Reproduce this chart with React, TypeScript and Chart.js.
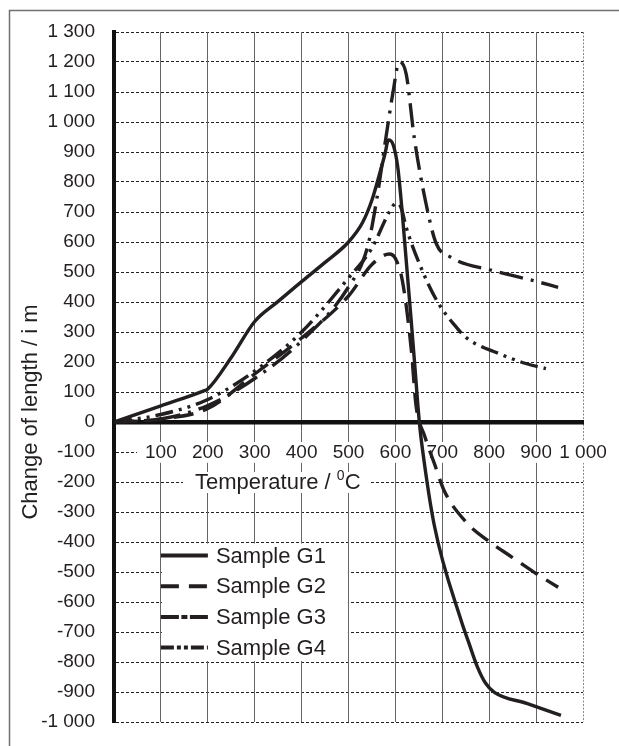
import React, { useEffect, useRef } from 'react';
import { Chart, registerables } from 'chart.js';

Chart.register(...registerables);

const FONT = '"Liberation Sans", Arial, Helvetica, sans-serif';
const INK = '#231f20';

// Temperature (°C) and change of length per sample
const g1Temp = [0, 100, 190, 200, 250, 300, 350, 400, 450, 500, 530, 550, 565, 578, 585, 595, 605, 615, 640, 651, 658, 683, 740, 757, 775, 792, 811, 880, 953];
const g1Len = [0, 54, 103, 110, 215, 335, 402, 468, 532, 600, 665, 740, 820, 895, 940, 925, 850, 690, 215, 0, -94, -345, -661, -738, -817, -870, -901, -938, -978];

const g2Temp = [0, 100, 200, 300, 400, 500, 550, 587, 600, 615, 634, 644, 662, 683, 704, 751, 796, 849, 896, 947];
const g2Len = [0, 10, 45, 160, 280, 420, 525, 560, 545, 470, 239, 55, -45, -138, -229, -334, -394, -451, -501, -551];

const g3Temp = [0, 100, 200, 300, 400, 500, 540, 560, 580, 595, 608, 623, 640, 665, 687, 718, 807, 892, 947];
const g3Len = [0, 10, 55, 145, 270, 450, 580, 740, 950, 1100, 1200, 1160, 950, 730, 595, 549, 505, 472, 449];

const g4Temp = [0, 100, 200, 300, 400, 500, 550, 587, 602, 612, 623, 651, 690, 730, 751, 821, 878, 921];
const g4Len = [0, 25, 75, 170, 300, 480, 580, 700, 730, 715, 649, 528, 400, 316, 281, 228, 195, 178];

const seriesNames = ['Sample G1', 'Sample G2', 'Sample G3', 'Sample G4'];
const seriesTemps = [g1Temp, g2Temp, g3Temp, g4Temp];
const seriesLens = [g1Len, g2Len, g3Len, g4Len];
const seriesDash = [[], [20, 10], [24, 8, 3, 8], [18, 6, 3, 6, 3, 6]];
const legendDash = [[], [18, 10], [18, 2.5, 6, 2.5], [13, 3, 4, 3, 4, 3]];

const xMin = 0;
const xMax = 1000;
const yMin = -1000;
const yMax = 1300;
const tickStep = 100;

const xTitle = 'Temperature / ';
const xTitleSup = '0';
const xTitleUnit = 'C';
const yTitle = 'Change of length / i m';

const fmt = (v: number) => {
  const s = Math.abs(v).toString();
  const t = s.length > 3 ? s.slice(0, s.length - 3) + ' ' + s.slice(-3) : s;
  return v < 0 ? '-' + t : t;
};

const annotate = {
  id: 'annotate',
  afterDraw(chart: any) {
    const { ctx } = chart;
    const xs = chart.scales.x;
    const ys = chart.scales.y;
    ctx.save();

    // outer frame (top & left)
    ctx.strokeStyle = '#707070';
    ctx.lineWidth = 1.5;
    ctx.beginPath();
    ctx.moveTo(9.5, chart.height);
    ctx.lineTo(9.5, 10.5);
    ctx.lineTo(chart.width, 10.5);
    ctx.stroke();

    // y title
    ctx.save();
    ctx.translate(31, 412);
    ctx.rotate(-Math.PI / 2);
    ctx.font = `22px ${FONT}`;
    ctx.textAlign = 'center';
    ctx.textBaseline = 'middle';
    ctx.fillStyle = INK;
    ctx.fillText(yTitle, 0, 0);
    ctx.restore();

    // x title with white backdrop, at the -200 line
    const ty = ys.getPixelForValue(-200);
    const x0 = xs.getPixelForValue(0) + 81;
    ctx.font = `22px ${FONT}`;
    const w1 = ctx.measureText(xTitle).width;
    ctx.font = `14px ${FONT}`;
    const w2 = ctx.measureText(xTitleSup).width;
    ctx.font = `22px ${FONT}`;
    const w3 = ctx.measureText(xTitleUnit).width;
    ctx.fillStyle = '#fff';
    ctx.fillRect(x0 - 12, ty - 10, w1 + w2 + w3 + 21, 21);
    ctx.fillStyle = INK;
    ctx.textBaseline = 'middle';
    ctx.textAlign = 'left';
    ctx.fillText(xTitle, x0, ty + 1);
    ctx.font = `14px ${FONT}`;
    ctx.fillText(xTitleSup, x0 + w1, ty - 6);
    ctx.font = `22px ${FONT}`;
    ctx.fillText(xTitleUnit, x0 + w1 + w2, ty + 1);

    // legend
    const lx = xs.getPixelForValue(100);
    const top = ys.getPixelForValue(-400) + 1.5;
    const bottom = ys.getPixelForValue(-800) - 1;
    ctx.fillStyle = '#fff';
    ctx.fillRect(lx + 1, top, 186, bottom - top);
    seriesNames.forEach((name, i) => {
      const cy = top + 12 + i * 30.7;
      ctx.setLineDash(legendDash[i]);
      ctx.lineWidth = 4;
      ctx.lineCap = 'butt';
      ctx.strokeStyle = INK;
      ctx.beginPath();
      ctx.moveTo(lx, cy);
      ctx.lineTo(lx + 47, cy);
      ctx.stroke();
      ctx.setLineDash([]);
      ctx.font = `22px ${FONT}`;
      ctx.fillStyle = INK;
      ctx.textBaseline = 'middle';
      ctx.textAlign = 'left';
      ctx.fillText(name, lx + 55, cy + 1);
    });

    ctx.restore();
  },
};

export default function App() {
  const ref = useRef<HTMLCanvasElement | null>(null);

  useEffect(() => {
    if (!ref.current) return;
    const chart = new Chart(ref.current, {
      type: 'line',
      data: {
        datasets: seriesNames.map((name, i) => ({
          label: name,
          data: seriesTemps[i].map((t, j) => ({ x: t, y: seriesLens[i][j] })),
          borderColor: INK,
          backgroundColor: INK,
          borderWidth: 3.4,
          borderDash: seriesDash[i],
          borderCapStyle: 'butt',
          borderJoinStyle: 'round',
          pointRadius: 0,
          fill: false,
          cubicInterpolationMode: 'monotone',
        })),
      },
      options: {
        responsive: false,
        animation: false,
        events: [],
        layout: { padding: { left: 0, top: 32, right: 36, bottom: 24 } },
        plugins: {
          legend: { display: false },
          tooltip: { enabled: false },
        },
        scales: {
          y: {
            type: 'linear',
            position: 'left',
            min: yMin,
            max: yMax,
            afterFit: (s: any) => {
              s.width = 114;
              s.paddingTop = 0;
              s.paddingBottom = 0;
            },
            ticks: {
              stepSize: tickStep,
              autoSkip: false,
              padding: 19,
              color: INK,
              font: { family: FONT, size: 19 },
              callback: (v: any) => fmt(Number(v)),
            },
            grid: { color: '#222', lineWidth: 1, drawTicks: false },
            border: { display: true, color: '#111', width: 4, dash: [3, 2] },
          },
          x: {
            type: 'linear',
            position: { y: 0 },
            min: xMin,
            max: xMax,
            afterFit: (s: any) => {
              s.paddingLeft = 0;
              s.paddingRight = 0;
            },
            ticks: {
              stepSize: tickStep,
              autoSkip: false,
              maxRotation: 0,
              padding: 19,
              color: INK,
              font: { family: FONT, size: 19 },
              callback: (v: any) => (Number(v) === 0 ? '' : fmt(Number(v))),
              showLabelBackdrop: (c: any) => !!c.tick && c.tick.value !== 0,
              backdropColor: '#fff',
              backdropPadding: { x: 8, y: -1 },
            },
            grid: {
              color: (c: any) => (c.tick && c.tick.value === 1000 ? '#888' : '#666'),
              lineWidth: 1,
              drawTicks: false,
            },
            border: {
              display: true,
              color: '#111',
              width: 4.5,
              dash: (c: any) => (c.tick && c.tick.value === 1000 ? [2, 1.5] : []),
            },
          },
        },
      },
      plugins: [annotate],
    } as any);
    return () => chart.destroy();
  }, []);

  return (
    <div style={{ position: 'absolute', left: 0, top: 0, width: 619, height: 746, background: '#fff' }}>
      <canvas ref={ref} width={619} height={746} style={{ display: 'block' }} />
    </div>
  );
}
